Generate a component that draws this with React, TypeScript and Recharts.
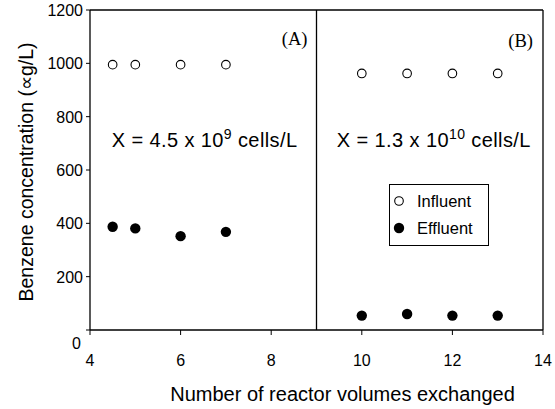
import {
  ScatterChart,
  Scatter,
  XAxis,
  YAxis,
  ReferenceLine,
  ReferenceDot,
} from "recharts";

// ── Data ──────────────────────────────────────────────────────────────────────

const influentA = [
  { x: 4.5, y: 995 },
  { x: 5, y: 995 },
  { x: 6, y: 995 },
  { x: 7, y: 995 },
];
const influentB = [
  { x: 10, y: 962 },
  { x: 11, y: 962 },
  { x: 12, y: 962 },
  { x: 13, y: 962 },
];
const effluentA = [
  { x: 4.5, y: 387 },
  { x: 5, y: 381 },
  { x: 6, y: 352 },
  { x: 7, y: 368 },
];
const effluentB = [
  { x: 10, y: 54 },
  { x: 11, y: 60 },
  { x: 12, y: 54 },
  { x: 13, y: 54 },
];

const xTicks = [4, 6, 8, 10, 12, 14];
const yTicks = [0, 200, 400, 600, 800, 1000, 1200];

const FONT = "'Liberation Sans', Arial, sans-serif";
const SERIF = "'Liberation Serif', 'Times New Roman', serif";

// ── Shapes ────────────────────────────────────────────────────────────────────

function OpenDot(props: any) {
  const { cx, cy } = props;
  return <circle cx={cx} cy={cy} r={4.3} fill="#fff" stroke="#000" strokeWidth={1.1} />;
}

function FilledDot(props: any) {
  const { cx, cy } = props;
  return <circle cx={cx} cy={cy} r={5.2} fill="#000" />;
}

function XTick(props: any) {
  const { x, y, payload } = props;
  return (
    <g>
      <line x1={x} y1={y - 8} x2={x} y2={y - 3} stroke="#000" />
      <text x={x} y={y + 28} textAnchor="middle" fontSize={16} fontFamily={FONT} fill="#000">
        {payload.value}
      </text>
    </g>
  );
}

function YTick(props: any) {
  const { x, y, payload } = props;
  const zero = payload.value === 0;
  return (
    <g>
      <line x1={x + 4} y1={y} x2={x + 8} y2={y} stroke="#000" />
      <text
        x={zero ? x - 1 : x + 1}
        y={zero ? y + 19 : y + 6}
        textAnchor="end"
        fontSize={16}
        fontFamily={FONT}
        fill="#000"
      >
        {payload.value}
      </text>
    </g>
  );
}

function YTitle({ viewBox }: any) {
  const cy = viewBox.y + viewBox.height / 2 + 2;
  return (
    <text
      x={33}
      y={cy}
      transform={`rotate(-90 33 ${cy})`}
      textAnchor="middle"
      fontSize={19.5}
      fontFamily={FONT}
      fill="#000"
    >
      Benzene concentration (∝g/L)
    </text>
  );
}

function Note({ viewBox, base, exp }: any) {
  const cx = viewBox.x + viewBox.width / 2;
  const cy = viewBox.y + viewBox.height / 2;
  return (
    <text x={cx} y={cy} textAnchor="middle" fontSize={20} fontFamily={FONT} fill="#000" letterSpacing={0.4}>
      {`X = ${base} x 10`}
      <tspan dy={-8} fontSize={14}>{exp}</tspan>
      <tspan dy={8}>{" cells/L"}</tspan>
    </text>
  );
}

function PanelTag({ viewBox, tag }: any) {
  const cx = viewBox.x + viewBox.width / 2;
  const cy = viewBox.y + viewBox.height / 2;
  return (
    <text x={cx} y={cy} textAnchor="end" fontSize={18.5} fontFamily={SERIF} fill="#000">
      {tag}
    </text>
  );
}

function LegendBox() {
  return (
    <div
      style={{
        position: "absolute",
        left: 389,
        top: 184,
        border: "1px solid #000",
        background: "#fff",
        width: 98,
        height: 60,
      }}
    >
      <svg width={98} height={60} style={{ display: "block" }}>
        <circle cx={9} cy={16} r={4.3} fill="#fff" stroke="#000" strokeWidth={1.1} />
        <text x={27} y={22} fontSize={16.5} fontFamily={FONT}>Influent</text>
        <circle cx={9} cy={43} r={5.2} fill="#000" />
        <text x={27} y={49} fontSize={16.5} fontFamily={FONT}>Effluent</text>
      </svg>
    </div>
  );
}

// ── Component ─────────────────────────────────────────────────────────────────

export default function App() {
  return (
    <div style={{ position: "absolute", left: 0, top: 0, width: 555, height: 409, background: "#fff" }}>
      <ScatterChart width={555} height={409} margin={{ top: 10, right: 12, bottom: 0, left: 0 }}>
        <XAxis
          type="number"
          dataKey="x"
          domain={[4, 14]}
          ticks={xTicks}
          tick={<XTick />}
          tickLine={false}
          axisLine={{ stroke: "#000", strokeWidth: 1.3 }}
          height={79}
          label={{
            value: "Number of reactor volumes exchanged",
            position: "insideBottom",
            offset: 8,
            dx: 26,
            fontSize: 20,
            fontFamily: FONT,
            fill: "#000",
          }}
        />
        <YAxis
          type="number"
          dataKey="y"
          domain={[0, 1200]}
          ticks={yTicks}
          tick={<YTick />}
          tickLine={false}
          axisLine={{ stroke: "#000", strokeWidth: 1.3 }}
          width={90}
          label={<YTitle />}
        />

        {/* frame + panel divider */}
        <ReferenceLine y={1200} stroke="#000" strokeWidth={1.3} ifOverflow="visible" />
        <ReferenceLine x={14} stroke="#000" strokeWidth={1.3} ifOverflow="visible" />
        <ReferenceLine x={9} stroke="#000" strokeWidth={1.3} />

        {/* annotations */}
        <ReferenceDot x={6.53} y={686} r={0} label={<Note base="4.5" exp="9" />} />
        <ReferenceDot x={11.59} y={686} r={0} label={<Note base="1.3" exp="10" />} />
        <ReferenceDot x={8.8} y={1069} r={0} label={<PanelTag tag="(A)" />} />
        <ReferenceDot x={13.78} y={1061} r={0} label={<PanelTag tag="(B)" />} />

        <Scatter name="Influent" data={influentA} shape={<OpenDot />} isAnimationActive={false} />
        <Scatter name="Influent B" data={influentB} shape={<OpenDot />} isAnimationActive={false} />
        <Scatter name="Effluent" data={effluentA} shape={<FilledDot />} isAnimationActive={false} />
        <Scatter name="Effluent B" data={effluentB} shape={<FilledDot />} isAnimationActive={false} />
      </ScatterChart>
      <LegendBox />
    </div>
  );
}
